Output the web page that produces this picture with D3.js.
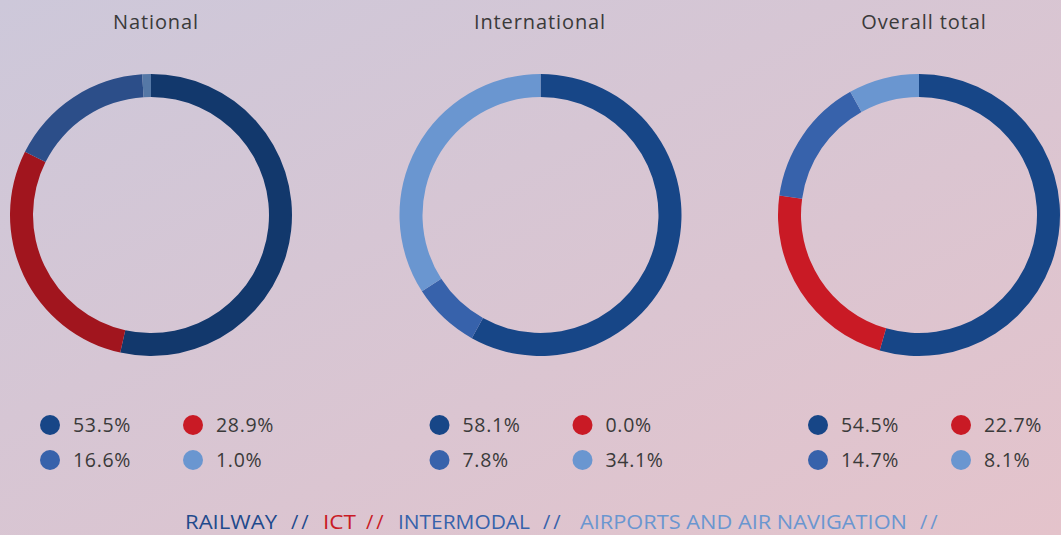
<!DOCTYPE html>
<html>
<head>
<meta charset="utf-8">
<script src="https://cdn.jsdelivr.net/npm/d3@7"></script>
<style>
  html, body { margin: 0; padding: 0; }
  body { width: 1061px; height: 535px; overflow: hidden; }
  text { font-family: "Open Sans", Lato, sans-serif; }
</style>
</head>
<body>
<div id="chart"></div>
<script>
// data
var sectors = ['RAILWAY', 'ICT', 'INTERMODAL', 'AIRPORTS AND AIR NAVIGATION'];
var charts = ['National', 'International', 'Overall total'];
var national = [53.5, 28.9, 16.6, 1.0];
var international = [58.1, 0.0, 7.8, 34.1];
var overall = [54.5, 22.7, 14.7, 8.1];
var values = [national, international, overall];

// chart settings
var chart_width = 1061;
var chart_height = 535;
var centers_x = [151, 540.5, 919];
var title_x = [156, 540, 924];
var center_y = 215;
var outer_r = 141;
var inner_r = 118;

var colors = ['#174687', '#c91a25', '#3762ab', '#6a96d0'];
var key_colors = ['#1f4a8c', '#c91a25', '#3762ab', '#6a96d0'];
var color = d3.scaleOrdinal().domain(d3.range(sectors.length)).range(colors);

var svg = d3.select('#chart')
	.append('svg')
	.attr('width', chart_width)
	.attr('height', chart_height);

// background gradient
var grad = svg.append('defs').append('linearGradient')
	.attr('id', 'bg')
	.attr('x1', '0%').attr('y1', '0%')
	.attr('x2', '100%').attr('y2', '100%');
grad.append('stop').attr('offset', '0%').attr('stop-color', '#cdc8da');
grad.append('stop').attr('offset', '100%').attr('stop-color', '#e4c3cb');

svg.append('rect')
	.attr('width', chart_width)
	.attr('height', chart_height)
	.attr('fill', 'url(#bg)');

var pie = d3.pie().sort(null).value((d) => d);
var arc = d3.arc().innerRadius(inner_r).outerRadius(outer_r);

charts.forEach(function (name, ci) {
	var g = svg.append('g');

	g.append('text')
		.attr('x', title_x[ci])
		.attr('y', 29)
		.attr('text-anchor', 'middle')
		.attr('font-size', 20)
		.attr('letter-spacing', 0.9)
		.attr('fill', '#3a3a3a')
		.text(name);

	var donut = g.append('g')
		.attr('transform', 'translate(' + centers_x[ci] + ',' + center_y + ')');
	// the first donut is shown darker in the reference
	if (ci === 0) donut.style('filter', 'brightness(0.8)');

	donut.selectAll('path')
		.data(pie(values[ci]))
		.enter()
		.append('path')
		.attr('d', arc)
		.attr('fill', (d, i) => color(i));

	// legend, 2 x 2
	var leg = g.selectAll('.leg')
		.data(values[ci])
		.enter()
		.append('g')
		.attr('transform', (d, i) => 'translate(' + (centers_x[ci] - 101 + (i % 2) * 143) + ',' + (425 + Math.floor(i / 2) * 35) + ')');

	leg.append('circle')
		.attr('r', 10)
		.attr('fill', (d, i) => color(i));

	leg.append('text')
		.attr('x', 23)
		.attr('dy', '0.36em')
		.attr('font-size', 19.5)
		.attr('letter-spacing', 0.7)
		.attr('fill', '#3a3a3a')
		.text((d) => d.toFixed(1) + '%');
});

// bottom sector key
var key_x = [185, 323, 398, 580];
var key_w = [92, 33, 132, 327];
var slash_x = [291, 366, 543, 920];
var bottom = svg.append('g')
	.attr('font-family', 'Roboto, sans-serif')
	.attr('font-weight', 500)
	.attr('font-size', 20);
sectors.forEach(function (s, i) {
	bottom.append('text')
		.attr('x', key_x[i])
		.attr('y', 529)
		.attr('textLength', key_w[i])
		.attr('lengthAdjust', 'spacingAndGlyphs')
		.attr('fill', key_colors[i])
		.text(s);
	bottom.append('text')
		.attr('x', slash_x[i])
		.attr('y', 529)
		.attr('letter-spacing', 3)
		.attr('fill', key_colors[i])
		.text('//');
});
</script>
</body>
</html>
